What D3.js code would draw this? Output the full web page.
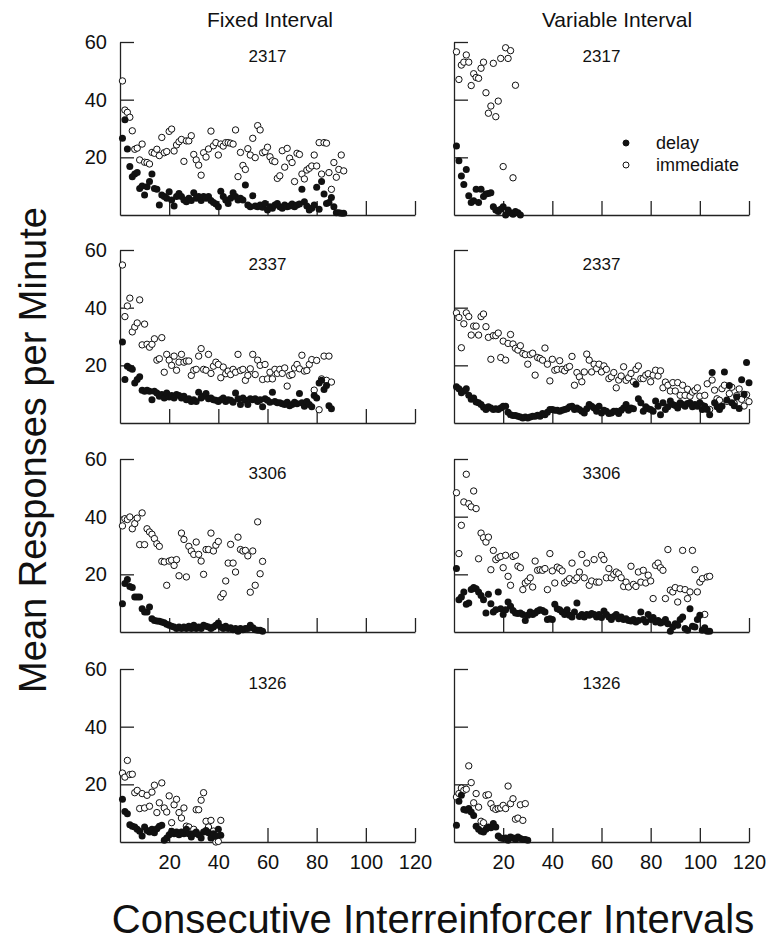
<!DOCTYPE html>
<html>
<head>
<meta charset="utf-8">
<script src="https://d3js.org/d3.v7.min.js"></script>
<style>
  body { margin: 0; background: #fff; }
  text { font-family: Arial, "Liberation Sans", sans-serif; fill: #111; }
</style>
</head>
<body>
<div id="d3-container"></div>
<script>

var columns = ["Fixed Interval", "Variable Interval"]
var subjects = ["2317", "2337", "3306", "1326"]
var xTicks = [20, 40, 60, 80, 100, 120]
var yTicks = [20, 40, 60]
var legendNames = ["delay", "immediate"]

// values per consecutive interval (x = 1, 2, 3 ...)
var fi2317Imm = [46.5, 36.4, 35.6, 33.9, 29.2, 22.8, 23.2, 19.1, 24.6, 18.3, 18.2, 17.7, 21.7, 21.4, 22.8, 20.6, 26.9, 21.6, 22, 29, 29.8, 22.2, 24.3, 25.4, 26.2, 18.6, 25.7, 25.7, 27.5, 21, 19.1, 17.3, 13.8, 21.6, 20.1, 22.9, 29.1, 24, 25.1, 20.8, 24.6, 23.9, 25.1, 25.1, 24.9, 24.6, 29.5, 13.3, 21.7, 17.2, 15.8, 23, 20.8, 26.6, 19.9, 31, 29.5, 21.6, 22, 23.5, 20.2, 18.8, 18.5, 12.7, 13.6, 22.3, 16.6, 23.1, 19.7, 18.2, 11.6, 21.4, 21, 14.2, 12.5, 15.6, 16.2, 17, 20.8, 17, 25.1, 14.2, 25.1, 24.9, 14.7, 8.9, 18.2, 13.1, 15.8, 20.8, 15.3]
var fi2317Delay = [26.6, 33, 22.9, 16.8, 13.3, 14.2, 14.7, 9.2, 10.1, 6.9, 9.8, 11.6, 14.2, 9.2, 8.9, 3.5, 6.9, 6.4, 5.8, 8.1, 5.2, 3.1, 6.4, 7.5, 6.4, 5.2, 4.6, 5.8, 5, 7.7, 5.8, 6.4, 5, 6.4, 5.8, 6.4, 5, 4.3, 3.8, 2.9, 8.2, 6.4, 5.2, 4, 5.8, 7.7, 6.4, 5.2, 5.8, 5.2, 10.4, 3.5, 2.9, 6.7, 3.1, 2.9, 3.5, 2.7, 4, 1.7, 2.9, 2.3, 3.5, 4, 2.9, 2.3, 3.5, 2.9, 3.1, 3.8, 2.9, 3.5, 3.8, 8.9, 4.6, 3.1, 1.7, 2.3, 3.5, 9.6, 2, 11.6, 7.3, 4, 4.3, 6.1, 2.9, 0.8, 0.8, 0.6, 0.6]

var vi2317Imm = [56.6, 47, 52, 53, 55.5, 53, 44.9, 49, 47.7, 47.4, 50.9, 53, 42.4, 35.3, 37.8, 52.6, 34.1, 39.5, 54.3, 16.8, 58, 54.3, 57, 12.9, 45]
var vi2317Delay = [23.9, 18.8, 13.5, 10.6, 15.8, 6.7, 4.3, 4.9, 8.9, 4.3, 8.9, 6.4, 7.3, 7.5, 7.7, 2.9, 1.7, 1.2, 2, 2.9, 0, 1.7, 0.8, 0.3, 1.2, 0.8, 0]

var fi2337Imm = [54.8, 36.9, 40.6, 43.3, 31.6, 33.3, 34.7, 42.7, 27.1, 34.3, 27.3, 26.3, 27.3, 29.2, 21.8, 22.3, 29.6, 17.6, 23.8, 21.8, 20, 23.2, 18.3, 21.1, 23.8, 21.1, 21.5, 21.5, 16.5, 18.3, 18.6, 23.2, 25.8, 18.6, 18.3, 23.8, 17.2, 19.7, 21.1, 20.3, 15.7, 19.4, 17.1, 18, 16.8, 18.6, 17.6, 23.8, 18.2, 18.6, 14.8, 16.5, 18.8, 23.8, 16.8, 21.8, 20, 15.1, 20.3, 15.3, 17.6, 15.3, 18.6, 17.2, 18.6, 17.2, 19.1, 12.8, 16.5, 16.8, 19.1, 20.3, 18.8, 23.5, 18, 18.2, 20.3, 22, 11.4, 21.7, 4.6, 15.3, 23.2, 14.8, 23.2, 14.2]
var fi2337Delay = [28.1, 15.1, 19.7, 19.1, 18.6, 13.9, 15.1, 16, 11.4, 11, 11.4, 11, 8.1, 11, 10.4, 9.3, 9.9, 8.7, 10.4, 9, 9.5, 8.7, 9.9, 9.5, 8.7, 9.3, 8.1, 8.4, 7.5, 8.1, 7.5, 10.7, 8.7, 9.3, 10.2, 8.4, 8.7, 8.1, 7.9, 7.5, 8.1, 8.7, 7.5, 8.1, 7.9, 7.2, 10.4, 8.4, 6.4, 8.7, 7.9, 6.4, 8.4, 8.1, 8.4, 7.5, 8.1, 5.6, 8.4, 7.9, 7.2, 10.7, 7.5, 7, 7, 6.7, 6.4, 7.2, 6, 6.4, 7.2, 6.7, 10.2, 7, 5.8, 7.5, 6.4, 5.6, 9.5, 8.7, 13.9, 14.8, 11.6, 13, 6, 4.9]

var vi2337Imm = [38.2, 36.6, 26.1, 34.4, 38.2, 36.9, 30.5, 33.6, 33.6, 30.5, 36.9, 37.8, 33.4, 29.7, 22.1, 30.3, 30.3, 31.2, 22.7, 28.4, 21.8, 27.6, 30.7, 27.4, 25.9, 25.3, 26.8, 24.1, 23.7, 20.4, 23.7, 24.2, 16.6, 22.7, 22.4, 21.8, 26, 20.4, 14.6, 22.1, 18.3, 18.6, 21.6, 18.6, 18.1, 19.2, 19.6, 23.1, 13.1, 17.5, 16, 14.3, 17.7, 23.9, 21.8, 17.7, 20.4, 18.9, 20.4, 17.7, 19.8, 18.6, 15.4, 16, 17.5, 12.2, 14.9, 16.3, 19.5, 14.8, 15.7, 17.2, 14.3, 18.6, 19.8, 15.4, 15.4, 16.6, 17.1, 14.3, 16.6, 18.3, 16.3, 18.1, 12.2, 14.2, 13.1, 11.1, 14, 11.1, 14, 9.6, 13.1, 9.6, 11.7, 9.3, 10.7, 11.3, 12.2, 9.3, 6.1, 9.6, 13.6, 4.7, 14.9, 11.4, 8.4, 7.9, 11.9, 13.1, 7.5, 10.2, 12.4, 6.8, 9.5, 11.8, 8.2, 5.9, 9.8, 7.4]
var vi2337Delay = [12.6, 11.9, 10.5, 11.1, 11.9, 9.6, 8.2, 8.7, 7.3, 7, 6.4, 5.5, 4.7, 5.6, 5.2, 4.7, 4.9, 4.7, 5.2, 5.8, 5.8, 3.7, 2.9, 2.6, 2.6, 2.3, 2.1, 1.7, 2.1, 1.7, 2.1, 2.3, 2.3, 2.7, 2.3, 3.3, 2.9, 3.7, 4.7, 4.7, 4.4, 4.4, 4.1, 4.4, 4.7, 4.9, 5.6, 5.8, 4.7, 5.2, 4.7, 4.1, 3.5, 4.9, 6.4, 5.8, 5.2, 4.1, 5.8, 3.5, 4.4, 4.1, 3.3, 3.5, 4.1, 4.1, 3.3, 4.4, 5.2, 6.4, 4.4, 5.2, 4.9, 13.4, 8.4, 7, 4.1, 5.6, 4.9, 4.7, 4.1, 7.6, 5.8, 2.9, 7, 4.7, 5.6, 7.6, 6.4, 6.1, 5.2, 7, 6.4, 5.8, 6.8, 7, 5.6, 6.4, 5.8, 7, 4.7, 5.8, 4.7, 2.9, 17.5, 7, 5.6, 4.7, 5.8, 17.7, 8, 13, 7, 6, 9, 5, 15, 10, 21, 14]

var fi3306Imm = [36.8, 39.3, 39, 39.9, 35.8, 37.6, 39.5, 30.3, 41.3, 30.3, 35.8, 34.7, 33.9, 32.4, 30.6, 29.7, 24.5, 24.3, 16.2, 24.6, 24.9, 23.1, 25.1, 19.5, 34.3, 32.1, 19.1, 29.7, 28.1, 26.9, 31.2, 26.9, 24.6, 20, 28.6, 28.6, 34.3, 28.1, 30.1, 31.4, 12.1, 13.3, 17.7, 23.9, 30.4, 23.9, 20.8, 32.9, 28.6, 28.1, 28.3, 26.4, 13.8, 28.1, 16.2, 38.2, 20.2, 24.5]
var fi3306Delay = [9.8, 16.8, 18.2, 15.8, 15.4, 12.1, 12.1, 12.1, 8.1, 6.9, 6.9, 8.7, 4.6, 4, 3.8, 3.7, 3.5, 3.2, 2.7, 2.3, 2, 1.7, 1.2, 1.7, 1.2, 1.7, 1.2, 2, 1.2, 2.3, 1.2, 1.7, 1.2, 2.3, 2, 1.7, 1.2, 1.7, 2.3, 3.1, 1.7, 1.2, 2, 1.2, 1.5, 0.8, 1.2, 0.3, 1.2, 0.8, 1.2, 1.2, 2.3, 1.5, 0.8, 0.6, 0.6, 0.3]

var vi3306Imm = [48.3, 27.2, 37, 45.1, 54.7, 44.5, 43.4, 48.9, 42.8, 25.4, 34.3, 32.7, 31.2, 32.9, 21.6, 28.3, 25.1, 25.8, 26.2, 22.3, 26.6, 19.3, 16.2, 26.2, 26.6, 22.8, 22.3, 14.7, 17, 17.7, 18.8, 15.6, 24.6, 21.4, 21.6, 21.4, 22, 14.7, 27.2, 21.2, 17, 22.5, 22, 21.2, 17, 17.7, 18.5, 23.9, 17.9, 18.8, 20.8, 26.9, 18.8, 23.9, 16.2, 17.7, 25.1, 17.3, 17.3, 26.6, 25.1, 18.8, 22, 18.8, 20, 20.8, 20.2, 18.8, 15.8, 17.3, 15.6, 22.8, 16.5, 15.8, 20.8, 17.3, 21.4, 17, 19.7, 17.7, 11.6, 23.1, 23.9, 22.3, 21.4, 11.6, 28.6, 14.5, 13.9, 15.4, 10.4, 15, 28.3, 14.7, 11.6, 13.9, 28.3, 21.6, 13.9, 17.3, 18.5, 6.1, 19.1, 19.3]
var vi3306Delay = [22, 11.2, 12.1, 13.9, 9.6, 10.1, 14.7, 15.4, 15, 13.9, 12.7, 11.2, 6.6, 13.1, 9.8, 6.9, 7.7, 13.9, 8.1, 6.1, 7.7, 10.4, 8.9, 7.5, 6.6, 6.4, 6.6, 6.1, 4, 5.8, 6.9, 6.1, 6.6, 7.3, 7.7, 7.5, 6.9, 4.3, 4.6, 4.3, 9.6, 8.1, 7.7, 6.9, 6.1, 7.7, 5.8, 5.2, 6.9, 10.1, 5.4, 6.1, 5.2, 6.1, 5.8, 6.4, 6.1, 5.2, 6.1, 5, 7.3, 6.1, 5.2, 4.3, 5.4, 6.1, 4.6, 5.2, 4.3, 4.6, 4, 3.8, 4.3, 3.5, 4, 6.9, 4.3, 3.5, 6.1, 4.3, 5, 3.5, 4, 3.1, 3.5, 4.3, 2.9, 0.3, 1.7, 2.9, 2.3, 4.3, 5.2, 1.2, 0.6, 8.1, 2, 1.7, 4.3, 5.8, 0.6, 1.5, 0.3, 0.3]

var fi1326Imm = [23.9, 22.5, 28.3, 23.4, 23.5, 17.1, 17.9, 11.6, 16.8, 11.8, 16.2, 12.4, 17.3, 19.7, 10.2, 13.6, 20.5, 11.8, 10.4, 16, 6.7, 12.9, 14.8, 10.2, 8.3, 11.8, 5.5, 5.2, 3.7, 4.4, 11.2, 11.2, 14.5, 17.1, 7.2, 5.2, 7.5, 3.8, 0, 0.2, 7.5]
var fi1326Delay = [14.8, 10.6, 9.8, 6, 5.5, 5.2, 4.4, 3.7, 2.1, 5.2, 4, 3.5, 4.4, 3.2, 4.6, 5.5, 5.8, 0.6, 1.4, 2.5, 3.7, 2.9, 3.5, 2.5, 3.5, 2.9, 4.4, 2.9, 1.7, 2.9, 3.5, 2.5, 1.4, 3.5, 4, 3.2, 1.4, 2.9, 2.1, 4.4, 2.3]

var vi1326Imm = [15.6, 16.8, 18.7, 17.9, 18.3, 26.4, 20.6, 13.6, 16.8, 12.1, 7.2, 6.7, 16.2, 16.4, 13.3, 11.8, 11.3, 11.6, 11.8, 12.7, 11.6, 19.4, 13.3, 15, 7.9, 8.3, 12.9, 7.5, 13.3]
var vi1326Delay = [5.8, 14.1, 16.2, 11.3, 11, 11.6, 10.4, 9.2, 5.5, 4.4, 3.7, 3.5, 4.4, 5.2, 4.9, 6.4, 5.2, 2.1, 1.4, 1.2, 1.4, 0.6, 1.7, 1.4, 0.9, 1.7, 1.2, 0.9, 0.9, 0.6]

var panels = [
  {row: 0, col: 0, delay: fi2317Delay, imm: fi2317Imm},
  {row: 0, col: 1, delay: vi2317Delay, imm: vi2317Imm},
  {row: 1, col: 0, delay: fi2337Delay, imm: fi2337Imm},
  {row: 1, col: 1, delay: vi2337Delay, imm: vi2337Imm},
  {row: 2, col: 0, delay: fi3306Delay, imm: fi3306Imm},
  {row: 2, col: 1, delay: vi3306Delay, imm: vi3306Imm},
  {row: 3, col: 0, delay: fi1326Delay, imm: fi1326Imm},
  {row: 3, col: 1, delay: vi1326Delay, imm: vi1326Imm}
]

var width = 769, height = 945
var colLeft = [120, 454], panelW = 295
var rowTop = [42, 250, 459, 669], panelH = 173

var svg = d3.select("#d3-container")
  .append("svg")
    .attr("width", width)
    .attr("height", height)

function toPoints(arr) {
  return arr.map(function(v, i) { return {x: i + 1, v: v} })
}

panels.forEach(function(p) {
  var x = d3.scaleLinear()
    .domain([0, 120])
    .range([colLeft[p.col], colLeft[p.col] + panelW])
  var y = d3.scaleLinear()
    .domain([0, 60])
    .range([rowTop[p.row] + panelH, rowTop[p.row]])

  var g = svg.append("g")

  // y axis, ticks point inward
  var yAxis = d3.axisLeft(y)
    .tickValues(yTicks)
    .tickSize(-14)
    .tickSizeOuter(0)
    .tickPadding(13)
  if (p.col == 1) yAxis.tickFormat("")
  g.append("g")
    .attr("transform", "translate(" + colLeft[p.col] + ",0)")
    .call(yAxis)

  var xAxis = d3.axisBottom(x)
    .tickValues(xTicks)
    .tickSize(-14)
    .tickSizeOuter(0)
    .tickPadding(13)
  if (p.row != 3) xAxis.tickFormat("")
  g.append("g")
    .attr("transform", "translate(0," + (rowTop[p.row] + panelH) + ")")
    .call(xAxis)

  g.selectAll(".domain, .tick line")
    .attr("stroke", "#222")
    .attr("stroke-width", 1.3)
  g.selectAll(".tick text")
    .attr("font-size", 20)
    .attr("font-family", "Arial, 'Liberation Sans', sans-serif")
    .attr("fill", "#111")

  // subject label
  g.append("text")
    .attr("x", colLeft[p.col] + panelW / 2)
    .attr("y", rowTop[p.row] + 20)
    .attr("text-anchor", "middle")
    .attr("font-size", 17)
    .text(subjects[p.row])

  g.selectAll(".imm")
    .data(toPoints(p.imm))
    .enter()
    .append("circle")
      .attr("cx", function(d) { return x(d.x) })
      .attr("cy", function(d) { return y(d.v) })
      .attr("r", 3.2)
      .attr("fill", "#fff")
      .attr("stroke", "#111")
      .attr("stroke-width", 1)

  g.selectAll(".delay")
    .data(toPoints(p.delay))
    .enter()
    .append("circle")
      .attr("cx", function(d) { return x(d.x) })
      .attr("cy", function(d) { return y(d.v) })
      .attr("r", 3.5)
      .attr("fill", "#111")
})

// column titles
svg.selectAll(".coltitle")
  .data(columns)
  .enter()
  .append("text")
    .attr("x", function(d, i) { return i == 0 ? 270 : 617 })
    .attr("y", 27)
    .attr("text-anchor", "middle")
    .attr("font-size", 21)
    .text(function(d) { return d })

// legend in the VI 2317 panel
var legend = svg.append("g")
legend.selectAll("circle")
  .data(legendNames)
  .enter()
  .append("circle")
    .attr("cx", 626)
    .attr("cy", function(d, i) { return 143 + i * 22 })
    .attr("r", 3)
    .attr("fill", function(d, i) { return i == 0 ? "#111" : "#fff" })
    .attr("stroke", "#111")
    .attr("stroke-width", 1)
legend.selectAll("text")
  .data(legendNames)
  .enter()
  .append("text")
    .attr("x", 656)
    .attr("y", function(d, i) { return 143 + i * 22 })
    .attr("dy", "0.35em")
    .attr("font-size", 18)
    .text(function(d) { return d })

svg.append("text")
  .attr("transform", "translate(46,450) rotate(-90)")
  .attr("text-anchor", "middle")
  .attr("font-size", 38)
  .text("Mean Responses per Minute")

svg.append("text")
  .attr("x", 433)
  .attr("y", 933)
  .attr("text-anchor", "middle")
  .attr("font-size", 40)
  .text("Consecutive Interreinforcer Intervals")

</script>
</body>
</html>
